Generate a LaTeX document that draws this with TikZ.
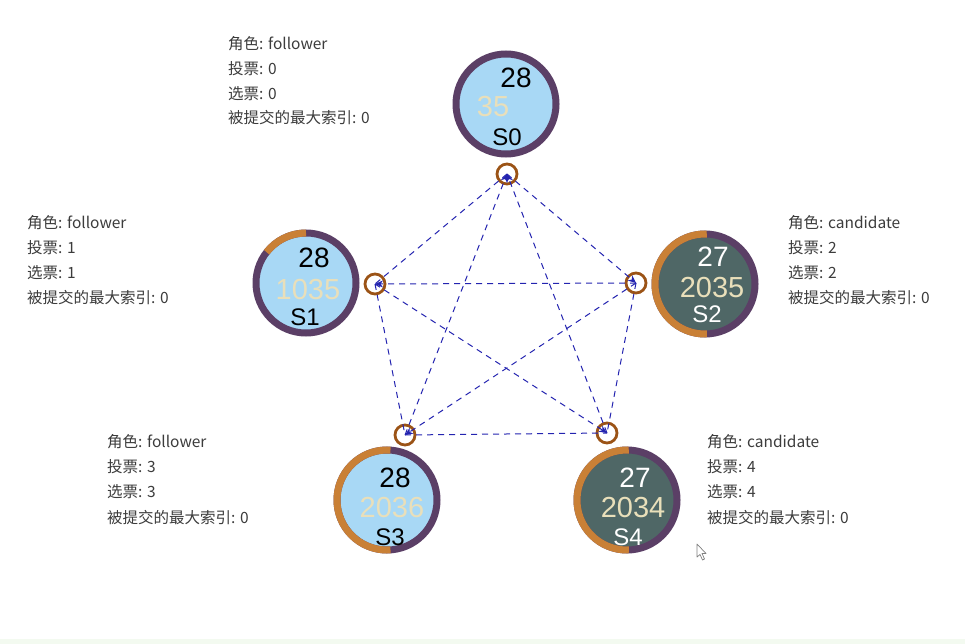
\documentclass[tikz,border=0pt]{standalone}
\usepackage{fontspec}
\setmainfont{Liberation Sans}
\newfontfamily\cjk{Noto Sans CJK SC}
\usetikzlibrary{arrows.meta}
\definecolor{ringpurple}{HTML}{5B3F66}
\definecolor{ringorange}{HTML}{C98036}
\definecolor{follow}{HTML}{A8D8F5}
\definecolor{cand}{HTML}{4F6766}
\definecolor{valcol}{HTML}{E9DFBA}
\definecolor{portcol}{HTML}{9B5316}
\definecolor{msgblue}{HTML}{2424B0}
\definecolor{labelgray}{HTML}{3C3C3C}
\definecolor{stripgreen}{HTML}{F3FAF0}
\begin{document}
\begin{tikzpicture}[x=1pt,y=1pt,
 srv/.style={circle, minimum size=100pt, inner sep=0pt, draw=ringpurple, line width=7pt},
 port/.style={circle, minimum size=20pt, inner sep=0pt, draw=portcol, line width=2.8pt, fill=white},
 msg/.style={draw=msgblue, line width=1pt, dash pattern=on 6pt off 5pt},
 tip/.style={-{Stealth[length=8pt,width=7pt]}},
 term/.style={font=\fontsize{28}{28}\selectfont, inner sep=0pt},
 val/.style={font=\fontsize{29}{29}\selectfont, text=valcol, inner sep=0pt},
 sname/.style={font=\fontsize{24}{24}\selectfont, inner sep=0pt},
 lbl/.style={anchor=west, font=\cjk\fontsize{15.5}{15.5}\selectfont, text=labelgray, inner sep=0pt},
 oarc/.style={draw=ringorange, line width=7pt}
]
\useasboundingbox (0,0) rectangle (965,-644);
\fill[white] (0,0) rectangle (965,-644);
\fill[stripgreen] (0,-639) rectangle (965,-644);

% servers
\node[srv, fill=follow] (s0) at (506,-104) {};
\node[srv, fill=follow] (s1) at (306,-283) {};
\node[srv, fill=cand]   (s2) at (705,-284) {};
\node[srv, fill=follow] (s3) at (387,-500) {};
\node[srv, fill=cand]   (s4) at (627,-500) {};

% timer arcs
\draw[oarc] (s1.center) ++(90:50) arc[start angle=90, end angle=142, radius=50];
\draw[oarc] (s2.center) ++(88:50) arc[start angle=88, end angle=272, radius=50];
\draw[oarc] (s3.center) ++(86:50) arc[start angle=86, end angle=274, radius=50];
\draw[oarc] (s4.center) ++(88:50) arc[start angle=88, end angle=272, radius=50];

% server texts
\node[term] (t0) at (516,-78) {28};
\node[val]  (v0) at (493,-107) {35};
\node[sname] (n0) at (507,-137) {S0};

\node[term] (t1) at (314,-258) {28};
\node[val]  (v1) at (308,-290) {1035};
\node[sname] (n1) at (305,-317) {S1};

\node[term, text=white] (t2) at (713,-257) {27};
\node[val]  (v2) at (712,-288) {2035};
\node[sname, text=white] (n2) at (707,-314) {S2};

\node[term] (t3) at (395,-478) {28};
\node[val]  (v3) at (392,-508) {2036};
\node[sname] (n3) at (390,-537) {S3};

\node[term, text=white] (t4) at (635,-478) {27};
\node[val]  (v4) at (633,-508) {2034};
\node[sname, text=white] (n4) at (628,-537) {S4};

% ports
\node[port] (p0) at (507,-174) {};
\node[port] (p1) at (375,-284) {};
\node[port] (p2) at (636,-283) {};
\node[port] (p3) at (405,-435) {};
\node[port] (p4) at (607,-433) {};

% messages
\draw[msg] (p0.center) -- (p1.center);
\draw[msg] (p1.center) -- (p3.center);
\draw[msg] (p2.center) -- (p4.center);
\draw[msg] (p3.center) -- (p4.center);
\draw[msg, tip] (p3.center) -- (p0.center);
\draw[msg, tip] (p4.center) -- (p0.center);
\draw[msg, tip] (p2.center) -- (p1.center);
\draw[msg, tip] (p0.center) -- (p2.center);
\draw[msg, tip] (p2.center) -- (p3.center);
\draw[msg, tip] (p1.center) -- (p4.center);

% labels
\node[lbl] (a0) at (228,-44) {角色: follower};
\node[lbl] (b0) at (228,-69) {投票: 0};
\node[lbl] (c0) at (228,-94) {选票: 0};
\node[lbl] (d0) at (228,-118) {被提交的最大索引: 0};

\node[lbl] (a1) at (27,-223) {角色: follower};
\node[lbl] (b1) at (27,-248) {投票: 1};
\node[lbl] (c1) at (27,-273) {选票: 1};
\node[lbl] (d1) at (27,-298) {被提交的最大索引: 0};

\node[lbl] (a2) at (788,-223) {角色: candidate};
\node[lbl] (b2) at (788,-248) {投票: 2};
\node[lbl] (c2) at (788,-273) {选票: 2};
\node[lbl] (d2) at (788,-298) {被提交的最大索引: 0};

\node[lbl] (a3) at (107,-442) {角色: follower};
\node[lbl] (b3) at (107,-467) {投票: 3};
\node[lbl] (c3) at (107,-492) {选票: 3};
\node[lbl] (d3) at (107,-518) {被提交的最大索引: 0};

\node[lbl] (a4) at (707,-442) {角色: candidate};
\node[lbl] (b4) at (707,-467) {投票: 4};
\node[lbl] (c4) at (707,-492) {选票: 4};
\node[lbl] (d4) at (707,-518) {被提交的最大索引: 0};

% mouse cursor
\draw[fill=white, draw=gray, line width=0.7pt, line join=round]
  (697,-544) -- (697,-557) -- (700,-554.5) -- (702.5,-560) -- (704.5,-559) -- (702,-553.5) -- (706,-553.5) -- cycle;
\end{tikzpicture}
\end{document}
